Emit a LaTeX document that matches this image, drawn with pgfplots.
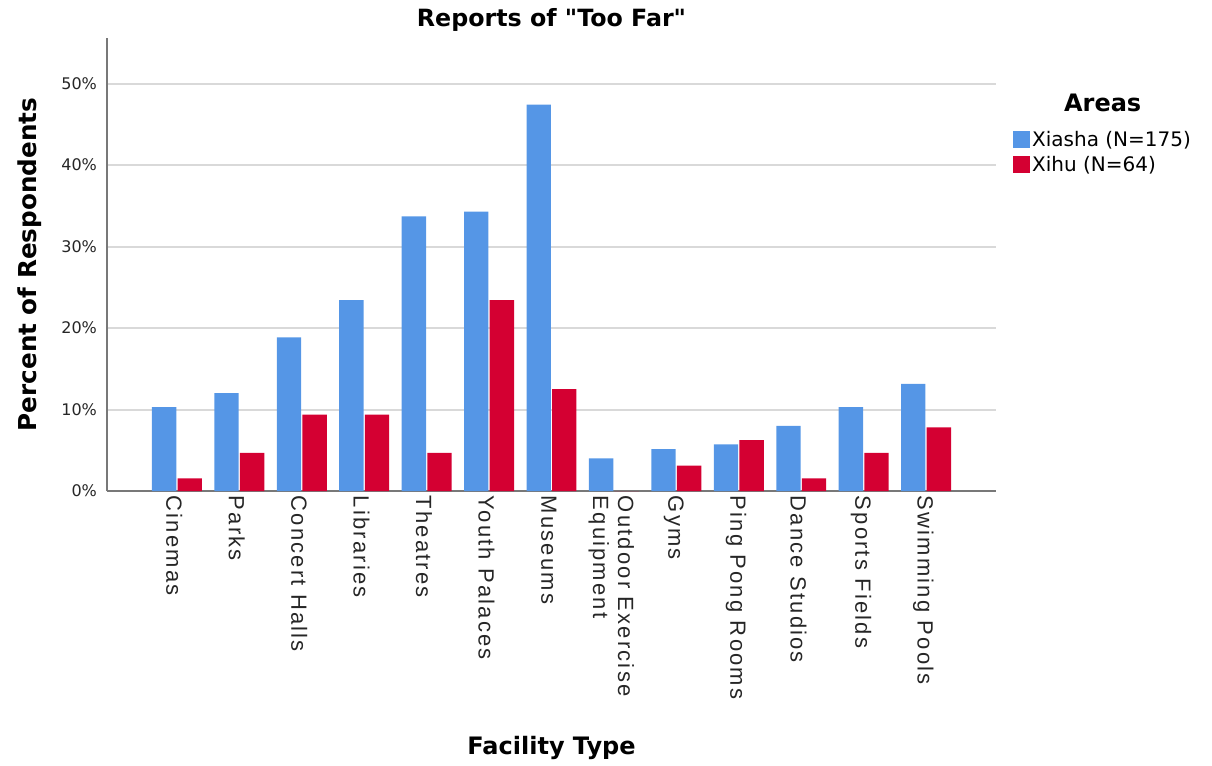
\documentclass[border=0pt]{standalone}
\usepackage{fontspec}
\setmainfont{DejaVu Sans}
\newfontfamily\titlefont{DejaVu Sans}
\newfontfamily\catfont[LetterSpace=10]{Liberation Sans}
\usepackage{pgfplots}
\pgfplotsset{compat=1.18}
\definecolor{xiasha}{RGB}{85,150,230}
\definecolor{xihu}{RGB}{212,0,50}
\definecolor{gridc}{RGB}{217,217,217}
\definecolor{axc}{RGB}{120,120,120}
\begin{document}
\begin{tikzpicture}
\path[use as bounding box] (-80.25pt,-205.5pt) rectangle (828.75pt,368.25pt);
\begin{axis}[
  at={(0pt,0pt)}, anchor=south west, scale only axis,
  width=666.75pt, height=339.75pt,
  xmin=-1.12, xmax=13.12, ymin=0, ymax=55.6,
  clip=false,
  axis x line*=bottom, axis y line*=left,
  x axis line style={-, draw=axc, line width=1.5pt},
  y axis line style={-, draw=axc, line width=0.9pt},
  major tick length=0pt,
  ytick={0,10,20,30,40,50},
  yticklabels={0\%,10\%,20\%,30\%,40\%,50\%},
  ymajorgrids, grid style={gridc, line width=1.5pt},
  yticklabel style={font=\fontsize{12}{14}\selectfont, text=black!85, xshift=-4pt},
  xtick={0,1,2,3,4,5,6,7,8,9,10,11,12},
  xticklabels={Cinemas, Parks, Concert Halls, Libraries, Theatres, Youth Palaces, Museums, {Outdoor Exercise\\Equipment}, Gyms, Ping Pong Rooms, Dance Studios, Sports Fields, Swimming Pools},
  xticklabel style={rotate=-90, anchor=west, align=left, yshift=-2pt, font=\catfont\fontsize{16.5}{18.75}\selectfont, text=black!85},
  title={Reports of "Too Far"},
  title style={at={(0.5,1.022)}, anchor=center, font=\titlefont\bfseries\fontsize{17.8}{20}\selectfont},
  xlabel={Facility Type},
  xlabel style={at={(0.5,-0.567)}, anchor=center, font=\bfseries\fontsize{18}{20}\selectfont},
  ylabel={Percent of Respondents},
  ylabel style={at={(-0.0866,0.5)}, anchor=center, font=\bfseries\fontsize{18.5}{20}\selectfont},
  legend style={at={(1.019,0.80)}, anchor=north west, draw=none, fill=none,
    font=\fontsize{15}{17}\selectfont, row sep=3pt, inner sep=0pt,
    nodes={inner sep=1.5pt}},
  legend cell align=left,
  legend image code/.code={\fill[#1] (0pt,-6.4pt) rectangle (12.75pt,6.4pt);},
]
\addplot[ybar, bar width=0.39, bar shift=-0.205, fill=xiasha, draw=none]
  coordinates {(0,10.29) (1,12.00) (2,18.86) (3,23.43) (4,33.71) (5,34.29) (6,47.43) (7,4.00) (8,5.14) (9,5.71) (10,8.00) (11,10.29) (12,13.14)};
\addlegendentry{Xiasha (N=175)}
\addplot[ybar, bar width=0.39, bar shift=0.205, fill=xihu, draw=none]
  coordinates {(0,1.56) (1,4.69) (2,9.38) (3,9.38) (4,4.69) (5,23.44) (6,12.50) (7,0) (8,3.13) (9,6.25) (10,1.56) (11,4.69) (12,7.81)};
\addlegendentry{Xihu (N=64)}
\node[font=\bfseries\fontsize{18}{20}\selectfont] at (axis description cs:1.120,0.8565) {Areas};
\end{axis}
\end{tikzpicture}
\end{document}
